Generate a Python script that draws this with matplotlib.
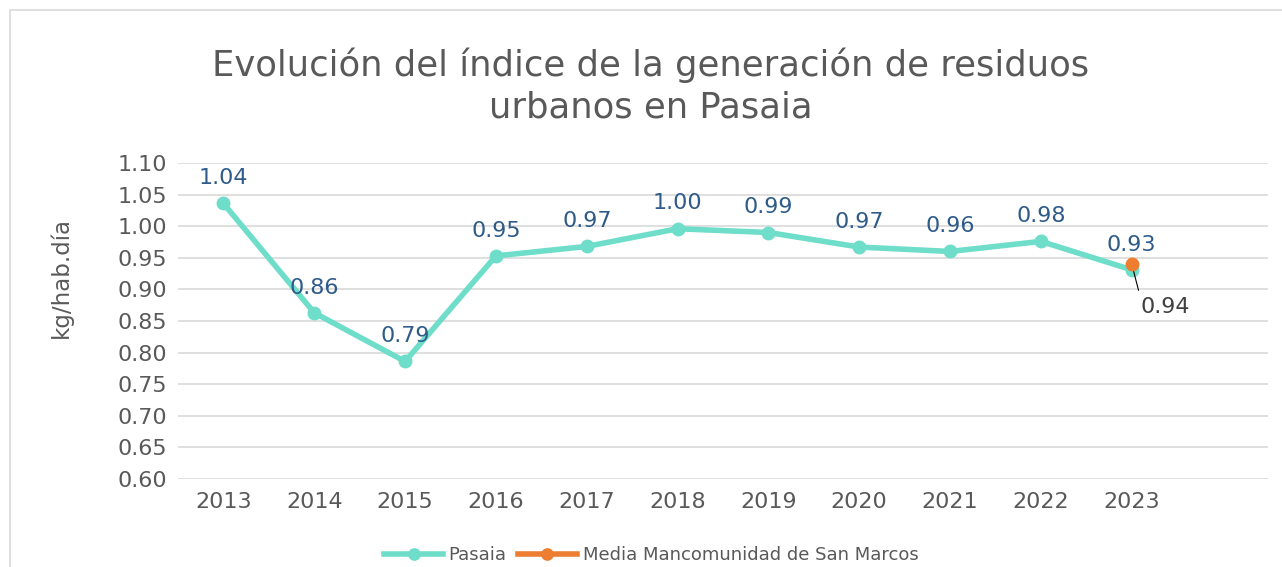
import matplotlib.pyplot as plt
from matplotlib.patches import Rectangle

# data
years = ["2013", "2014", "2015", "2016", "2017", "2018", "2019", "2020", "2021", "2022", "2023"]
pasaia = [1.036, 0.863, 0.786, 0.953, 0.968, 0.996, 0.990, 0.967, 0.960, 0.976, 0.931]
pasaia_labels = ["1.04", "0.86", "0.79", "0.95", "0.97", "1.00", "0.99", "0.97", "0.96", "0.98", "0.93"]
media_year = "2023"
media_value = 0.94
y_ticks = [0.60, 0.65, 0.70, 0.75, 0.80, 0.85, 0.90, 0.95, 1.00, 1.05, 1.10]

# the reference text is widely spaced, DejaVu Sans gets closer to that width
plt.rcParams['font.family'] = ['DejaVu Sans']

teal = "#6EDDC9"
orange = "#ED7D31"
grey = "#595959"
blue = "#2E5B8A"

fig = plt.figure(figsize=(12.82, 5.67), dpi=100)
ax = fig.add_axes([178 / 1282, 1 - 479 / 567, (1268 - 178) / 1282, (479 - 163) / 567])

# outer chart frame (cut off at right and bottom as in the reference)
fig.patches.append(Rectangle((10 / 1282, -0.1), 1.2, 1 - 10 / 567 + 0.1,
                             transform=fig.transFigure, fill=False,
                             edgecolor="#D9D9D9", linewidth=1.2))

x = list(range(len(years)))
ax.plot(x, pasaia, color=teal, linewidth=4, marker="o", markersize=9,
        label="Pasaia", zorder=3)
mx = years.index(media_year)
ax.plot([mx], [media_value], color=orange, linewidth=4, marker="o", markersize=9,
        label="Media Mancomunidad de San Marcos", linestyle="none", zorder=4)

for xi, v, lab in zip(x, pasaia, pasaia_labels):
    ax.annotate(lab, (xi, v), xytext=(0, 11), textcoords="offset points",
                ha="center", va="bottom", fontsize=16, color=blue)

ax.annotate(f"{media_value:.2f}", (mx, media_value), xytext=(24, -31),
            textcoords="offset points", ha="center", va="center",
            fontsize=16, color="#404040",
            arrowprops=dict(arrowstyle="-", color="black", lw=0.8,
                            relpos=(0.0, 1.0), shrinkA=3, shrinkB=0))

ax.set_xlim(-0.5, 11.5)
ax.set_ylim(0.60, 1.10)
ax.set_xticks(x)
ax.set_xticklabels(years)
ax.set_yticks(y_ticks)
ax.set_yticklabels([f"{t:.2f}" for t in y_ticks])
ax.tick_params(axis="both", length=0, labelsize=16, labelcolor=grey)
ax.tick_params(axis="y", pad=8)
ax.tick_params(axis="x", pad=9)
ax.grid(axis="y", color="#D9D9D9", linewidth=1.2)
ax.set_axisbelow(True)
for s in ax.spines.values():
    s.set_visible(False)

ax.set_ylabel("kg/hab.día", fontsize=16.5, color=grey)
ax.yaxis.set_label_coords((73 - 178) / 1090, (479 - 277) / 316)

fig.text(651 / 1282, 1 - 86 / 567,
         "Evolución del índice de la generación de residuos\nurbanos en Pasaia",
         ha="center", va="center", fontsize=25.5, color=grey, linespacing=1.3)

leg = ax.legend(loc="center", bbox_to_anchor=(651 / 1282, 1 - 555 / 567),
                bbox_transform=fig.transFigure, ncol=2, frameon=False,
                fontsize=13, labelcolor=grey, handlelength=3.3,
                columnspacing=0.6, handletextpad=0.3, markerscale=0.9)
for h in leg.legend_handles:
    h.set_linestyle("-")
    h.set_linewidth(4)

fig.savefig("out.png", dpi=100)
